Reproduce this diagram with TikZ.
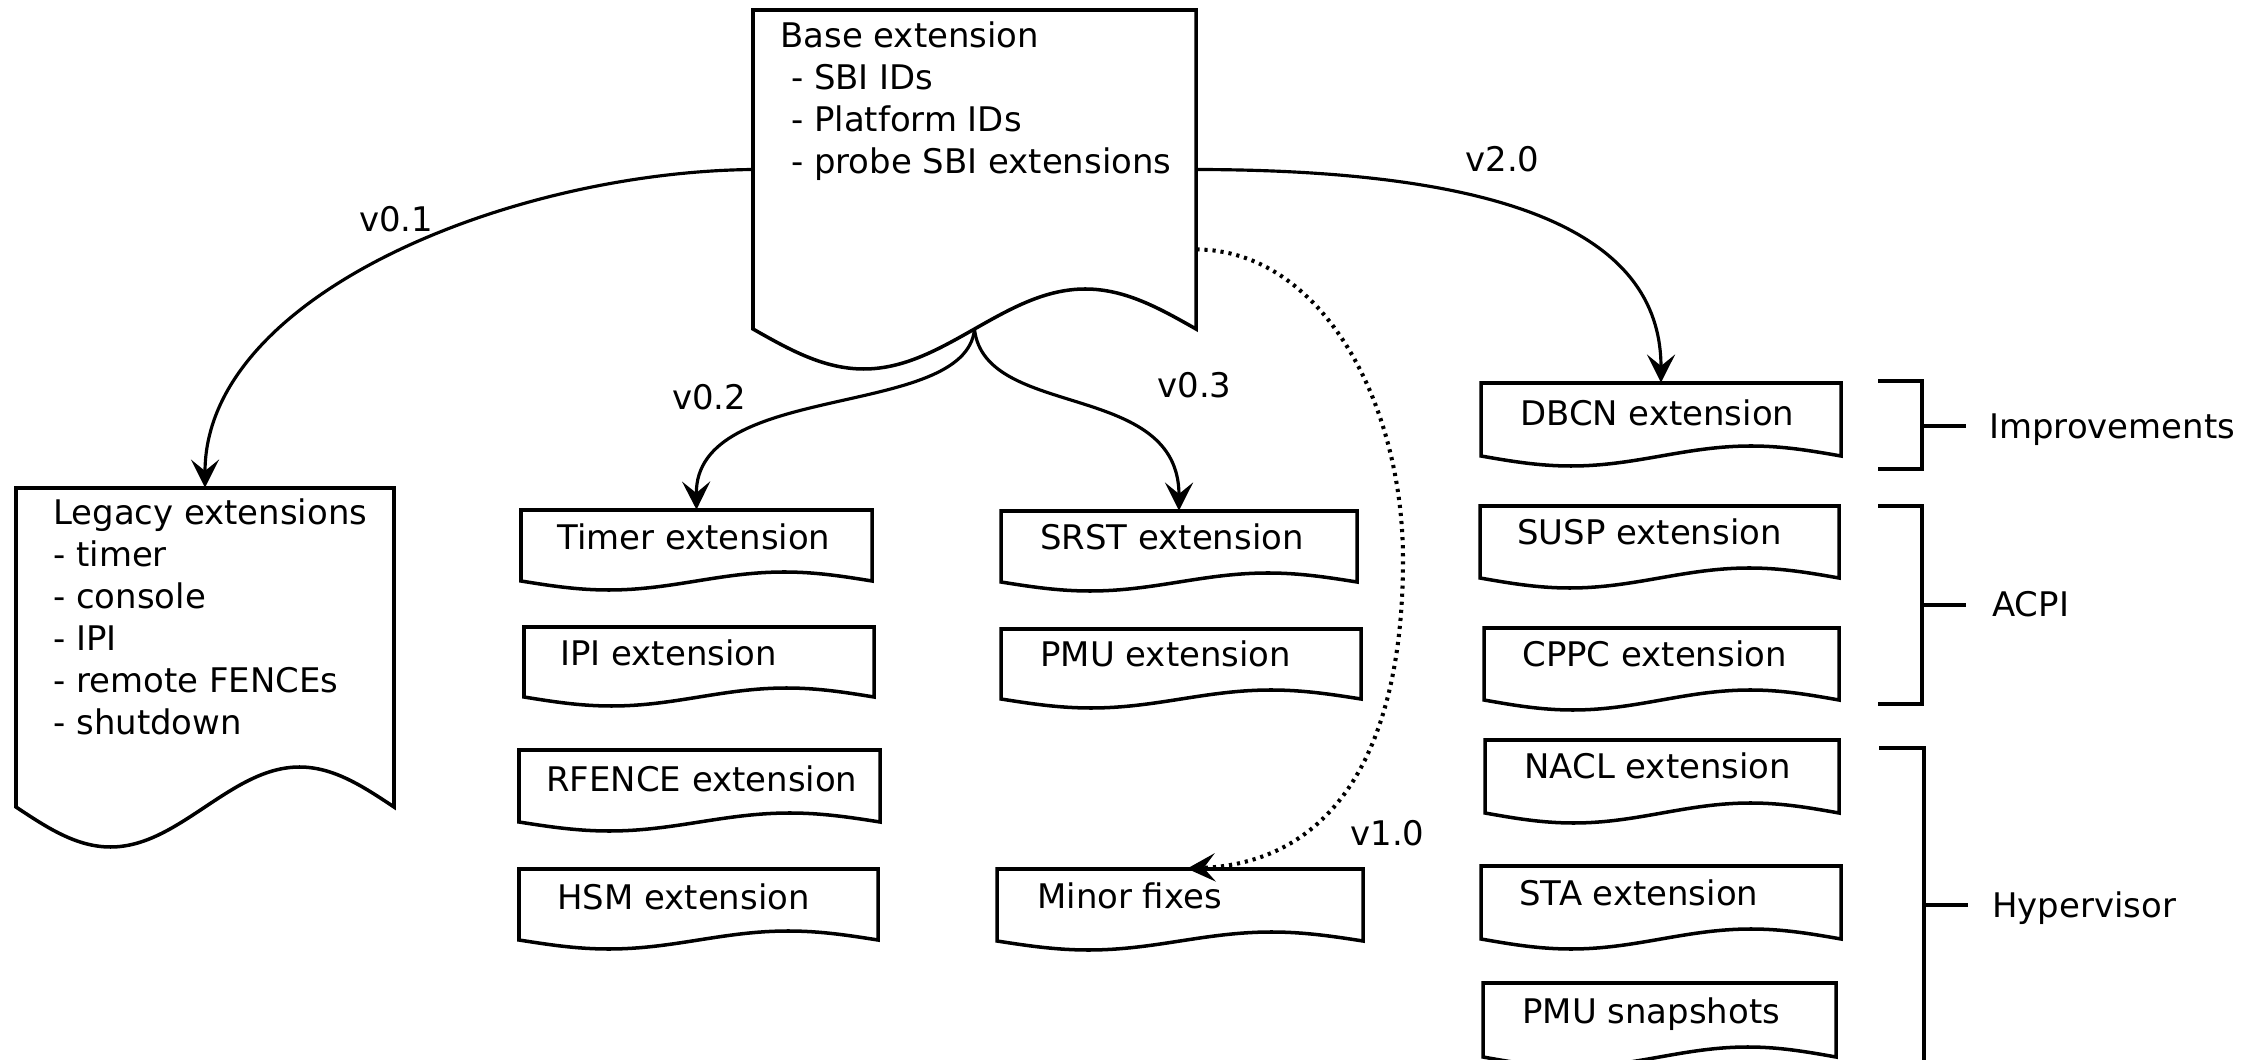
\documentclass[tikz,border=0pt]{standalone}
\usepackage{fontspec}
\setmainfont{DejaVu Sans}
\usetikzlibrary{arrows.meta,calc}

% Document shape: straight top and sides, wavy bottom edge.
% #1 name, #2 left, #3 top, #4 right, #5 bottom of the sides, #6 wave amplitude
\newcommand\docshape[6]{%
  \draw[docline] (#2,#5) -- (#2,#3) -- (#4,#3) -- (#4,#5)
    sin ({#4-(#4-#2)/4},{#5-#6}) cos ({(#2+#4)/2},#5)
    sin ({#2+(#4-#2)/4},{#5+#6}) cos (#2,#5) -- cycle;
  \node[inner sep=0pt, minimum width={(#4-#2)*0.02cm}, minimum height={(#5-#3)*0.02cm}]
    (#1) at ({(#2+#4)/2},{(#3+#5)/2}) {};
}

\tikzset{
  docline/.style={line width=2pt, line join=miter},
  txt/.style={inner sep=0pt, anchor=base west, font=\fontsize{19.3pt}{23.9pt}\selectfont},
  link/.style={line width=1.8pt, -{Stealth[length=16pt, width=16pt, inset=6.5pt]}},
  dotlink/.style={link, line width=2.3pt, dash pattern=on 1.8pt off 2.8pt},
  brace/.style={line width=2pt},
}

\begin{document}
\begin{tikzpicture}[x=0.02cm, y=-0.02cm]
\useasboundingbox (0,0) rectangle (2263,1060);

% base extension
\docshape{base}{753}{10}{1196}{329}{40}
\node[txt] (base-text) at (780,48) {\vtop{\hbox{Base extension}\hbox{\ - SBI IDs}\hbox{\ - Platform IDs}\hbox{\ - probe SBI extensions}}};

% legacy extensions
\docshape{legacy}{16}{488}{394}{807}{40}
\node[txt] (legacy-text) at (53,525) {\vtop{\hbox{Legacy extensions}\hbox{- timer}\hbox{- console}\hbox{- IPI}\hbox{- remote FENCEs}\hbox{- shutdown}}};

% v0.2 column
\docshape{timer}{521}{510}{872}{581}{9}
\node[txt] (timer-text) at (557,550) {Timer extension};
\docshape{ipi}{524}{627}{874}{697}{9}
\node[txt] (ipi-text) at (560,666) {IPI extension};
\docshape{rfence}{519}{750}{880}{822}{9}
\node[txt] (rfence-text) at (546,791) {RFENCE extension};
\docshape{hsm}{519}{869}{878}{940}{9}
\node[txt] (hsm-text) at (557,909) {HSM extension};

% v0.3 / v1.0 column
\docshape{srst}{1001}{511}{1357}{582}{9}
\node[txt] (srst-text) at (1040,550) {SRST extension};
\docshape{pmu}{1001}{629}{1361}{699}{9}
\node[txt] (pmu-text) at (1040,667) {PMU extension};
\docshape{minor}{997}{869}{1363}{941}{9}
\node[txt] (minor-text) at (1037,908) {Minor fixes};

% v2.0 column
\docshape{dbcn}{1481}{383}{1841}{456}{10}
\node[txt] (dbcn-text) at (1520,426) {DBCN extension};
\docshape{susp}{1480}{506}{1839}{578}{10}
\node[txt] (susp-text) at (1517,545) {SUSP extension};
\docshape{cppc}{1484}{628}{1839}{700}{10}
\node[txt] (cppc-text) at (1522,667) {CPPC extension};
\docshape{nacl}{1485}{740}{1839}{813}{10}
\node[txt] (nacl-text) at (1524,779) {NACL extension};
\docshape{sta}{1481}{866}{1841}{939}{10}
\node[txt] (sta-text) at (1519,905) {STA extension};
\docshape{pmusnap}{1483}{983}{1836}{1057}{10}
\node[txt] (pmusnap-text) at (1522,1023) {PMU snapshots};

% group brackets
\draw[brace] (1878,381) -- (1922,381) -- (1922,469) -- (1878,469);
\draw[brace] (1922,426) -- (1966,426);
\node[txt] (grp-impr) at (1989,439) {Improvements};
\draw[brace] (1878,506) -- (1922,506) -- (1922,704) -- (1878,704);
\draw[brace] (1922,605) -- (1966,605);
\node[txt] (grp-acpi) at (1992,617) {ACPI};
\draw[brace] (1879,748) -- (1924,748) -- (1924,1090) -- (1879,1090);
\draw[brace] (1924,905) -- (1968,905);
\node[txt] (grp-hyp) at (1992,917) {Hypervisor};

% version connectors
\coordinate (dotstart) at ($(base.north east)!0.75!(base.south east)$);
\draw[link] (base.west) .. controls (510,172) and (205,295) .. (legacy.north);
\draw[link] (base.south) .. controls (965,420) and (695,380) .. (timer.north);
\draw[link] (base.south) .. controls (985,420) and (1179,380) .. (srst.north);
\draw[link] (base.east) .. controls (1500,170) and (1661,230) .. (dbcn.north);
\draw[dotlink] (dotstart) .. controls (1320,250) and (1403,400) .. (1403,560)
  .. controls (1403,740) and (1340,862) .. ([xshift=7*0.02cm]minor.north);

% version labels
\node[txt] (lab-v01) at (359,232) {v0.1};
\node[txt] (lab-v02) at (672,410) {v0.2};
\node[txt] (lab-v03) at (1157,398) {v0.3};
\node[txt] (lab-v10) at (1350,845) {v1.0};
\node[txt] (lab-v20) at (1465,172) {v2.0};
\end{tikzpicture}
\end{document}
